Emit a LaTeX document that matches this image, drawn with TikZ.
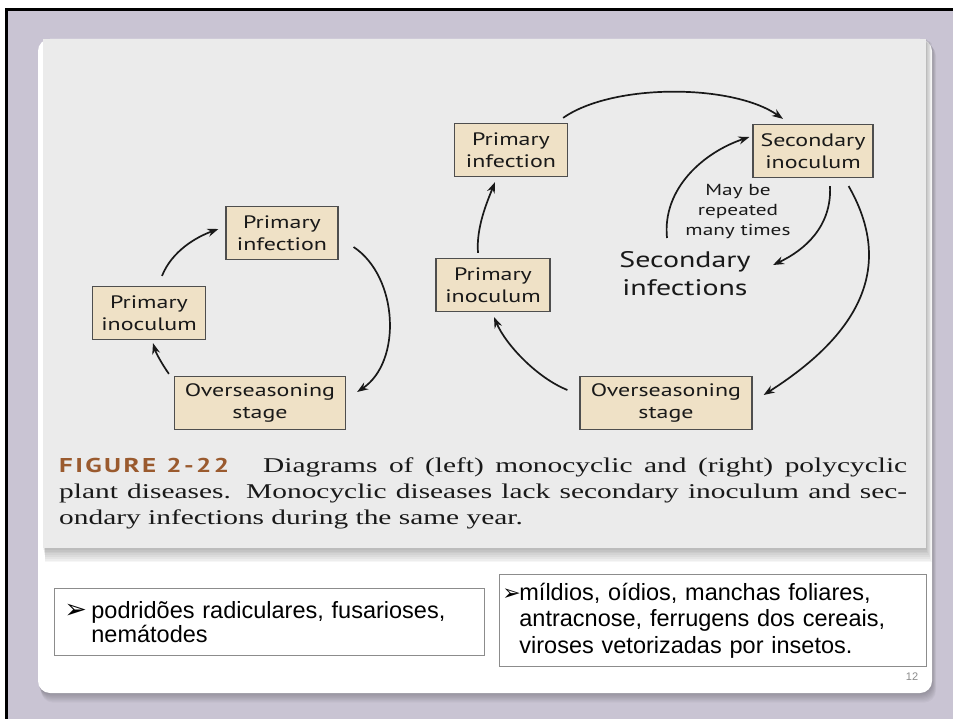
\documentclass[tikz,border=0pt]{standalone}
\usepackage{fontspec}
\setmainfont{Liberation Serif}
\newfontfamily\figsans[FakeStretch=1.33]{PT Sans}
\newfontfamily\figserif[FakeStretch=1.4]{Liberation Serif}
\newfontfamily\figlabel[FakeStretch=1.35,LetterSpace=12]{PT Sans}
\newfontfamily\slidefont{Liberation Sans}
\newfontfamily\symfont{DejaVu Sans}
\usetikzlibrary{arrows.meta}
\definecolor{slidebg}{HTML}{C9C4D3}
\definecolor{figbg}{HTML}{EBEBEB}
\definecolor{stagefill}{HTML}{EFE1C6}
\definecolor{stageline}{HTML}{4E4E4E}
\definecolor{figlabelcol}{HTML}{9A5A2E}
\definecolor{noteline}{HTML}{8C8C8C}

\begin{document}
\begin{tikzpicture}[x=1pt, y=-1pt,
    stage/.style={draw=stageline, fill=stagefill, line width=1.2pt,
      font=\figsans\fontsize{18}{22}\selectfont, text=black!90, align=center,
      inner sep=0pt, minimum height=53pt},
    cyc/.style={-{Stealth[length=11pt,width=8pt]}, line width=1.7pt, black!90},
    note/.style={draw=noteline, fill=white, line width=0.8pt, anchor=north west,
      font=\slidefont\fontsize{23.5}{24}\selectfont, align=left, inner ysep=0pt},
    capline/.style={anchor=base west, inner sep=0pt,
      font=\figserif\fontsize{21}{26}\selectfont, text=black!90},
  ]
  \useasboundingbox (0,0) rectangle (953,719);

  % slide background and frame
  \fill[white] (0,0) rectangle (953,719);
  \fill[slidebg] (5,8) rectangle (953,719);
  \draw[line width=3pt] (6.5,719) -- (6.5,9.5) -- (953,9.5);

  % panel with soft shadow
  \foreach \s in {1,...,8}
    \fill[black, opacity=0.03, rounded corners=12pt]
      (38+0.4*\s,39+0.6*\s) rectangle (932+0.5*\s,693+1.2*\s);
  \fill[white, rounded corners=12pt] (38,39) rectangle (932,693);

  % figure area
  \foreach \s in {1,...,8}
    \fill[black, opacity=0.035] (43+0.3*\s,39+0.5*\s) rectangle (926+0.7*\s,548+1.8*\s);
  \fill[figbg] (43,39) rectangle (926,548);

  % left: monocyclic
  \node[stage, minimum width=112pt] (pinfL) at (282,233) {Primary\\infection};
  \node[stage, minimum width=113pt] (pinoL) at (149,313) {Primary\\inoculum};
  \node[stage, minimum width=171pt] (overL) at (260,403) {Overseasoning\\stage};

  \draw[cyc] ([shift={(13,-10)}]pinoL.north) .. controls +(10,-25) and +(-22,8) .. ([shift={(-7,-4)}]pinfL.west);
  \draw[cyc] ([shift={(15,14)}]pinfL.east) .. controls +(45,30) and +(45,-30) .. ([shift={(11,-11)}]overL.east);
  \draw[cyc] ([shift={(-5,-2)}]overL.north west) .. controls +(-7,-10) and +(3,10) .. ([shift={(4,3)}]pinoL.south);

  % right: polycyclic
  \node[stage, minimum width=113pt] (pinfR) at (511,150) {Primary\\infection};
  \node[stage, minimum width=120pt] (secR) at (813,151) {Secondary\\inoculum};
  \node[stage, minimum width=114pt] (pinoR) at (493,285) {Primary\\inoculum};
  \node[stage, minimum width=172pt] (overR) at (666,403) {Overseasoning\\stage};
  \node[font=\figsans\fontsize{16}{20}\selectfont, text=black!90, align=center]
    (repeatR) at (738,212) {May be\\repeated\\many times};
  \node[font=\figsans\fontsize{22.5}{28}\selectfont, text=black!90, align=center]
    (secinfR) at (685,274) {Secondary\\infections};
  \coordinate (loopout) at (773,265);
  \coordinate (loopin) at (667,238);

  \draw[cyc] ([shift={(-15,-5)}]pinoR.north) .. controls +(-2,-25) and +(-8,20) .. ([shift={(-16,5)}]pinfR.south);
  \draw[cyc] ([shift={(-5,-5)}]pinfR.north east) .. controls +(50,-35) and +(-50,-35) .. ([shift={(-30,-5)}]secR.north);
  \draw[cyc] ([shift={(-25,8)}]secR.south east) .. controls +(40,70) and +(110,-70) .. ([shift={(11,-8)}]overR.east);
  \draw[cyc] ([shift={(-12,-13)}]overR.west) .. controls +(-30,-12) and +(12,28) .. ([shift={(1,5)}]pinoR.south);
  \draw[cyc] ([shift={(17,8)}]secR.south) .. controls +(2,40) and +(32,-15) .. (loopout);
  \draw[cyc] (loopin) .. controls +(-5,-50) and +(-45,15) .. ([shift={(-3,-14)}]secR.west);

  % caption
  \node[capline] (cap1) at (59,472) {\makebox[848pt][s]{{\figlabel\fontsize{20}{26}\selectfont\bfseries\color{figlabelcol}FIGURE\hspace{10pt}2-22}\hspace{34pt}Diagrams of (left) monocyclic and (right) polycyclic}};
  \node[capline] (cap2) at (59,498) {\makebox[848pt][s]{plant diseases. Monocyclic diseases lack secondary inoculum and sec-}};
  \node[capline] (cap3) at (59,524) {ondary infections during the same year.};

  % notes
  \node[note, minimum width=430pt, minimum height=67pt, text width=410pt, inner xsep=10pt]
    (monoNote) at (54,588) {\makebox[27pt][l]{\smash{\symfont\fontsize{27}{24}\selectfont ➢}}podridões radiculares, fusarioses,\\\hspace*{27pt}nemátodes};
  \node[note, minimum width=427pt, minimum height=92pt, text width=421pt, inner xsep=3pt,
    font=\slidefont\fontsize{23.5}{26.5}\selectfont]
    (polyNote) at (499,574) {\makebox[17pt][l]{\smash{\symfont\fontsize{22}{26}\selectfont ➢}}míldios, oídios, manchas foliares,\\\hspace*{17pt}antracnose, ferrugens dos cereais,\\\hspace*{17pt}viroses vetorizadas por insetos.};
  \node[font=\slidefont\fontsize{11}{13}\selectfont, text=black!45] (pageno) at (912,677) {12};
\end{tikzpicture}
\end{document}
